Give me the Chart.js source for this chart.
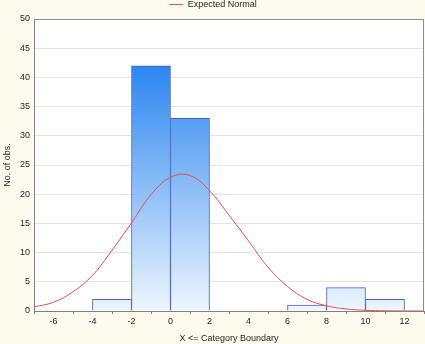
<!DOCTYPE html>
<html>
<head>
<meta charset="utf-8">
<script src="https://cdn.jsdelivr.net/npm/chart.js@4.4.0/dist/chart.umd.min.js"></script>
<style>
html, body { margin: 0; padding: 0; background: #fdfaee; }
#wrap { width: 425px; height: 344px; }
</style>
</head>
<body>
<div id="wrap"><canvas id="chart1"></canvas></div>
<script>
// histogram bins (centre of each 2-wide class) and observed counts
const binCenters = [-3, -1, 1, 3, 5, 7, 9, 11];
const binCounts = [2, 42, 33, 0, 0, 1, 4, 2];

// expected normal curve
const normalX = [-7, -6, -5, -4, -3, -2, -1, 0, 1, 2, 3, 4, 5, 6, 7, 8, 9, 10, 11, 12, 13];
const normalY = [0.7, 1.5, 3.3, 6.1, 10.4, 15.1, 19.9, 22.9, 23.2, 20.6, 16.4, 12.0, 7.5, 4.2, 2.0, 0.9, 0.35, 0.12, 0.04, 0.01, 0];

const xTicks = [-6, -4, -2, 0, 2, 4, 6, 8, 10, 12];
const yTicks = [0, 5, 10, 15, 20, 25, 30, 35, 40, 45, 50];

const fontSpec = { family: 'Liberation Sans, Arial, sans-serif', size: 9 };
const textColor = '#1e1e1e';

const backdrop = {
    id: 'backdrop',
    beforeDraw(chart) {
        const c = chart.ctx, a = chart.chartArea;
        c.save();
        c.fillStyle = '#fdfaee';
        c.fillRect(0, 0, chart.width, chart.height);
        c.fillStyle = '#ffffff';
        c.fillRect(a.left, a.top, a.right - a.left, a.bottom - a.top);
        c.restore();
    },
    afterDraw(chart) {
        const c = chart.ctx, a = chart.chartArea;
        c.save();
        c.strokeStyle = '#8c8c8c';
        c.lineWidth = 1;
        c.beginPath();
        c.moveTo(a.left, a.top + 0.5);
        c.lineTo(a.right - 0.5, a.top + 0.5);
        c.lineTo(a.right - 0.5, a.bottom);
        c.stroke();
        c.restore();
    }
};

function barFill(ctx) {
    const chart = ctx.chart, a = chart.chartArea;
    if (!a) return '#d8e9fc';
    const g = chart.ctx.createLinearGradient(0, a.bottom, 0, a.top);
    g.addColorStop(0, '#eef6ff');
    g.addColorStop(1, '#0670ee');
    return g;
}

const ctx = document.getElementById('chart1').getContext('2d');
new Chart(ctx, {
    type: 'bar',
    data: {
        datasets: [{
            type: 'bar',
            label: 'Observed',
            data: binCenters.map((x, i) => ({ x: x, y: binCounts[i] })),
            backgroundColor: barFill,
            borderColor: '#4a64b8',
            borderWidth: 1,
            barPercentage: 1,
            categoryPercentage: 1,
            order: 2
        }, {
            type: 'line',
            label: 'Expected Normal',
            data: normalX.map((x, i) => ({ x: x, y: normalY[i] })),
            borderColor: '#e0505a',
            borderWidth: 1,
            pointRadius: 0,
            fill: false,
            tension: 0.4,
            order: 1
        }]
    },
    options: {
        responsive: true,
        maintainAspectRatio: false,
        animation: false,
        devicePixelRatio: 1,
        layout: { padding: { left: 2, right: 1, top: 0, bottom: 0 } },
        plugins: {
            tooltip: { enabled: false },
            legend: {
                display: true,
                position: 'top',
                labels: {
                    filter: item => item.datasetIndex === 1,
                    usePointStyle: true,
                    pointStyle: 'line',
                    pointStyleWidth: 14,
                    boxHeight: 8,
                    padding: 0,
                    color: textColor,
                    font: fontSpec
                }
            }
        },
        scales: {
            x: {
                type: 'linear',
                min: -7,
                max: 13,
                offset: false,
                afterBuildTicks: s => { s.ticks = xTicks.map(v => ({ value: v })); },
                afterFit: s => { s.height = 33; },
                ticks: { color: textColor, font: fontSpec, padding: 2, maxRotation: 0, autoSkip: false },
                grid: { drawOnChartArea: false, drawTicks: true, tickLength: 3, color: '#808080' },
                border: { color: '#808080' },
                title: { display: true, text: 'X <= Category Boundary', color: textColor, font: fontSpec, padding: { top: 3, bottom: 0 } }
            },
            y: {
                min: 0,
                max: 50,
                afterBuildTicks: s => { s.ticks = yTicks.map(v => ({ value: v })); },
                afterFit: s => { s.width = 32; },
                ticks: { color: textColor, font: fontSpec, padding: 4 },
                grid: { color: '#e4e4e4', drawTicks: false },
                border: { color: '#808080' },
                title: { display: true, text: 'No. of obs.', color: textColor, font: fontSpec, padding: { top: 0, bottom: 0 } }
            }
        }
    },
    plugins: [backdrop]
});
</script>
</body>
</html>
